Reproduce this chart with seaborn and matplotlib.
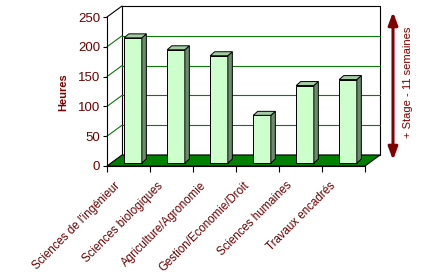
import matplotlib
matplotlib.use("Agg")
import matplotlib.pyplot as plt
from matplotlib.patches import Polygon, FancyArrowPatch
from matplotlib.transforms import ScaledTranslation
import seaborn as sns
import pandas as pd

# Teaching hours per subject area
categories = [
    "Sciences de l'ingénieur",
    "Sciences biologiques",
    "Agriculture/Agronomie",
    "Gestion/Economie/Droit",
    "Sciences humaines",
    "Travaux encadrés",
]
heures = [210, 190, 180, 80, 130, 140]
yticks = [0, 50, 100, 150, 200, 250]

sns.set_style("white")
plt.rcParams["font.family"] = ["Liberation Sans", "DejaVu Sans"]

TXT = "#6a0000"
DARKRED = "#800000"
GRID = "#0a7a0a"

fig = plt.figure(figsize=(4.25, 2.8), dpi=100)
ax = fig.add_axes([107 / 425, 114 / 280, 258 / 425, 149 / 280])

df = pd.DataFrame({"cat": categories, "h": heures})
sns.barplot(data=df, x="cat", y="h", color="#ccffcc", saturation=1,
            width=0.41, edgecolor="black", linewidth=0.7, ax=ax, zorder=5)

ax.set_xlim(-0.5, len(categories) - 0.5)
ax.set_ylim(0, 250)

# depth of the box (data units) and placement of the columns inside it
DX, DY = 0.35, 18.5
BX, BY = 0.105, 5.0
BDX, BDY = 0.105, 6.7
x0, x1 = -0.5, len(categories) - 0.5
ytop = yticks[-1]

# back wall
ax.add_patch(Polygon([(x0 + DX, DY), (x1 + DX, DY), (x1 + DX, ytop + DY), (x0 + DX, ytop + DY)],
                     closed=True, facecolor="white", edgecolor="black", lw=0.8,
                     clip_on=False, zorder=0))
# gridlines on back wall and side wall
for v in yticks[1:-1]:
    ax.plot([x0 + DX, x1 + DX], [v + DY, v + DY], color=GRID, lw=0.8, clip_on=False, zorder=1)
    ax.plot([x0, x0 + DX], [v, v + DY], color=GRID, lw=0.8, clip_on=False, zorder=1)
ax.plot([x0, x0 + DX], [ytop, ytop + DY], color="black", lw=0.8, clip_on=False, zorder=1)

# floor
ax.add_patch(Polygon([(x0, 0), (x1, 0), (x1 + DX, DY), (x0 + DX, DY)], closed=True,
                     facecolor="#008000", edgecolor="black", lw=0.8, clip_on=False, zorder=2))

# extrude the columns
for p in list(ax.patches):
    if not hasattr(p, "get_width") or p.get_height() <= 0 or p.get_facecolor()[1] < 0.9:
        continue
    p.set_x(p.get_x() + BX)
    p.set_y(BY)
    x, w, h = p.get_x(), p.get_width(), p.get_height()
    top = BY + h
    ax.add_patch(Polygon([(x + w, BY), (x + w, top), (x + w + BDX, top + BDY), (x + w + BDX, BY + BDY)],
                         closed=True, facecolor="#6b8b6b", edgecolor="black", lw=0.7,
                         clip_on=False, zorder=5))
    ax.add_patch(Polygon([(x, top), (x + w, top), (x + w + BDX, top + BDY), (x + BDX, top + BDY)],
                         closed=True, facecolor="#a3cca3", edgecolor="black", lw=0.7,
                         clip_on=False, zorder=5))
    p.set_clip_on(False)

for s in ["top", "right"]:
    ax.spines[s].set_visible(False)
for s in ["left", "bottom"]:
    ax.spines[s].set_color("black")
    ax.spines[s].set_linewidth(0.8)
    ax.spines[s].set_zorder(6)

ax.set_yticks(yticks)
ax.set_yticklabels([str(v) for v in yticks])
ax.tick_params(axis="y", length=3, width=0.8, direction="out", pad=2,
               labelsize=9.5, labelcolor=TXT, color="black", left=True)

ax.set_xticks(range(len(categories)))
ax.set_xticklabels(categories, rotation=45, ha="right", va="center",
                   rotation_mode="anchor", fontsize=8.3, color=TXT)
ax.set_xticks([x0 + i for i in range(len(categories) + 1)], minor=True)
ax.tick_params(axis="x", which="major", length=0, pad=0, bottom=True)
ax.tick_params(axis="x", which="minor", length=4, width=0.8, direction="out",
               color="black", bottom=True)
shift = ScaledTranslation(-0.10, -0.18, fig.dpi_scale_trans)
for lab in ax.get_xticklabels():
    lab.set_transform(lab.get_transform() + shift)

ax.set_xlabel("")
ax.set_ylabel("")
ax.grid(False)

fig.text(63 / 425, 1 - 92 / 280, "Heures", rotation=90, ha="center", va="center",
         fontsize=8, fontweight="bold", color=DARKRED)

arrow = FancyArrowPatch((393, 280 - 160), (393, 280 - 12), transform=None,
                        arrowstyle="<|-|>,head_length=0.75,head_width=0.28",
                        mutation_scale=10, color=DARKRED, lw=2.2, shrinkA=0, shrinkB=0)
fig.patches.append(arrow)
fig.text(408 / 425, 1 - 82 / 280, "+ Stage - 11 semaines", rotation=90,
         ha="center", va="center", fontsize=8, color=DARKRED)

fig.savefig("out.png", dpi=100, facecolor="white")
